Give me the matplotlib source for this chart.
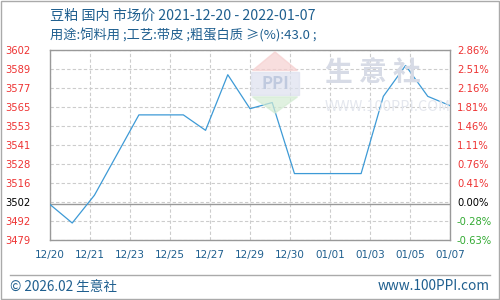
import numpy as np
import matplotlib
matplotlib.use("Agg")
import matplotlib.pyplot as plt
from matplotlib.patches import Rectangle, Polygon
from matplotlib.lines import Line2D

plt.rcParams['font.family'] = ['Noto Sans CJK SC', 'DejaVu Sans']

# daily prices 2021-12-20 .. 2022-01-07
prices = [3502, 3490, 3508, 3534, 3560, 3560, 3560, 3550, 3586, 3564,
          3568, 3522, 3522, 3522, 3522, 3572, 3592, 3572, 3566]
base_price = 3502

x_labels = ["12/20", "12/21", "12/23", "12/25", "12/27", "12/29",
            "12/30", "01/01", "01/03", "01/05", "01/07"]
left_labels = ["3479", "3492", "3502", "3516", "3528", "3541",
               "3553", "3565", "3577", "3589", "3602"]
right_labels = ["-0.63%", "-0.28%", "0.00%", "0.41%", "0.76%", "1.11%",
                "1.46%", "1.81%", "2.16%", "2.51%", "2.86%"]

title = "豆粕 国内 市场价 2021-12-20 - 2022-01-07"
subtitle = "用途:饲料用 ;工艺:带皮 ;粗蛋白质 ≥(%):43.0 ;"

y_min, y_max = 3479, 3602
text_blue = "#1f5f8f"
line_blue = "#3d9ad6"

fig = plt.figure(figsize=(5, 3), dpi=100)
ax = fig.add_axes([0.1, 0.2, 0.8, 0.6333])

# watermark (logo + site name)
fig.patches.append(Polygon([[0.505, 0.765], [0.55, 0.827], [0.595, 0.765]], closed=True,
                           transform=fig.transFigure, color="#f6d0d0", alpha=0.7, zorder=0))
fig.patches.append(Rectangle((0.502, 0.683), 0.096, 0.077, transform=fig.transFigure,
                             color="#dde1ee", alpha=0.7, zorder=0))
fig.patches.append(Polygon([[0.505, 0.677], [0.55, 0.623], [0.595, 0.677]], closed=True,
                           transform=fig.transFigure, color="#d4ecd4", alpha=0.7, zorder=0))
fig.text(0.55, 0.72, "PPI", fontsize=12, color="#c0cadf", ha="center", va="center",
         fontweight="bold")
fig.text(0.65, 0.757, "生 意 社", fontsize=20, color="#d7dbe6", ha="left", va="center",
         fontweight="bold")
fig.text(0.65, 0.643, "WWW.100PPI.COM", fontsize=10.5, color="#e4e7ee", ha="left",
         va="center")

days = np.arange(len(prices))
ax.plot(days, prices, color=line_blue, lw=0.9, zorder=3)
ax.axhline(base_price, color="#999999", lw=1.0, zorder=2)

ax.set_xlim(0, len(prices) - 1)
ax.set_ylim(y_min, y_max)
ax.patch.set_alpha(0)

y_ticks = np.linspace(y_min, y_max, len(left_labels))
x_ticks = np.linspace(0, len(prices) - 1, len(x_labels))
ax.set_yticks(y_ticks)
ax.set_xticks(x_ticks)
ax.set_xticklabels(x_labels, color=text_blue, fontsize=7.5, family="DejaVu Sans")
ax.tick_params(length=0)
ax.tick_params(axis='x', pad=7)
ax.grid(True, linestyle=(0, (3, 2)), color="#cccccc", lw=0.8, zorder=1)
for s in ax.spines.values():
    s.set_color("#999999")
    s.set_linewidth(1.0)

def lab_color(txt):
    if txt.startswith("-"):
        return "#33aa33"
    if txt in ("3502", "0.00%"):
        return "black"
    return "#ee3333"

ax.set_yticklabels(left_labels, fontsize=7.2, family="DejaVu Sans", ha="left")
ax.tick_params(axis='y', pad=32)
for t in ax.get_yticklabels():
    t.set_color(lab_color(t.get_text()))

ax2 = ax.twinx()
ax2.set_ylim(y_min, y_max)
ax2.set_yticks(y_ticks)
ax2.set_yticklabels(right_labels, fontsize=7.2, family="DejaVu Sans")
ax2.tick_params(length=0, pad=5)
for t in ax2.get_yticklabels():
    t.set_color(lab_color(t.get_text()))
for s in ax2.spines.values():
    s.set_visible(False)

fig.text(0.1, 0.948, title, fontsize=10.2, color=text_blue, ha="left", va="center")
fig.text(0.1, 0.883, subtitle, fontsize=9.5, color=text_blue, ha="left", va="center")

# footer
fig.add_artist(Line2D([0.02, 0.98], [0.085, 0.085], color="#aaaaaa", lw=1.0))
fig.text(0.02, 0.045, "© 2026.02 生意社", fontsize=9.8, color=text_blue, ha="left", va="center")
fig.text(0.98, 0.045, "www.100PPI.com", fontsize=9.8, color=text_blue, ha="right", va="center")

# outer border
fig.patches.append(Rectangle((0.001, 0.002), 0.997, 0.995, transform=fig.transFigure,
                             fill=False, edgecolor="#aaaaaa", lw=1.0))

fig.savefig("out.png", dpi=100)
